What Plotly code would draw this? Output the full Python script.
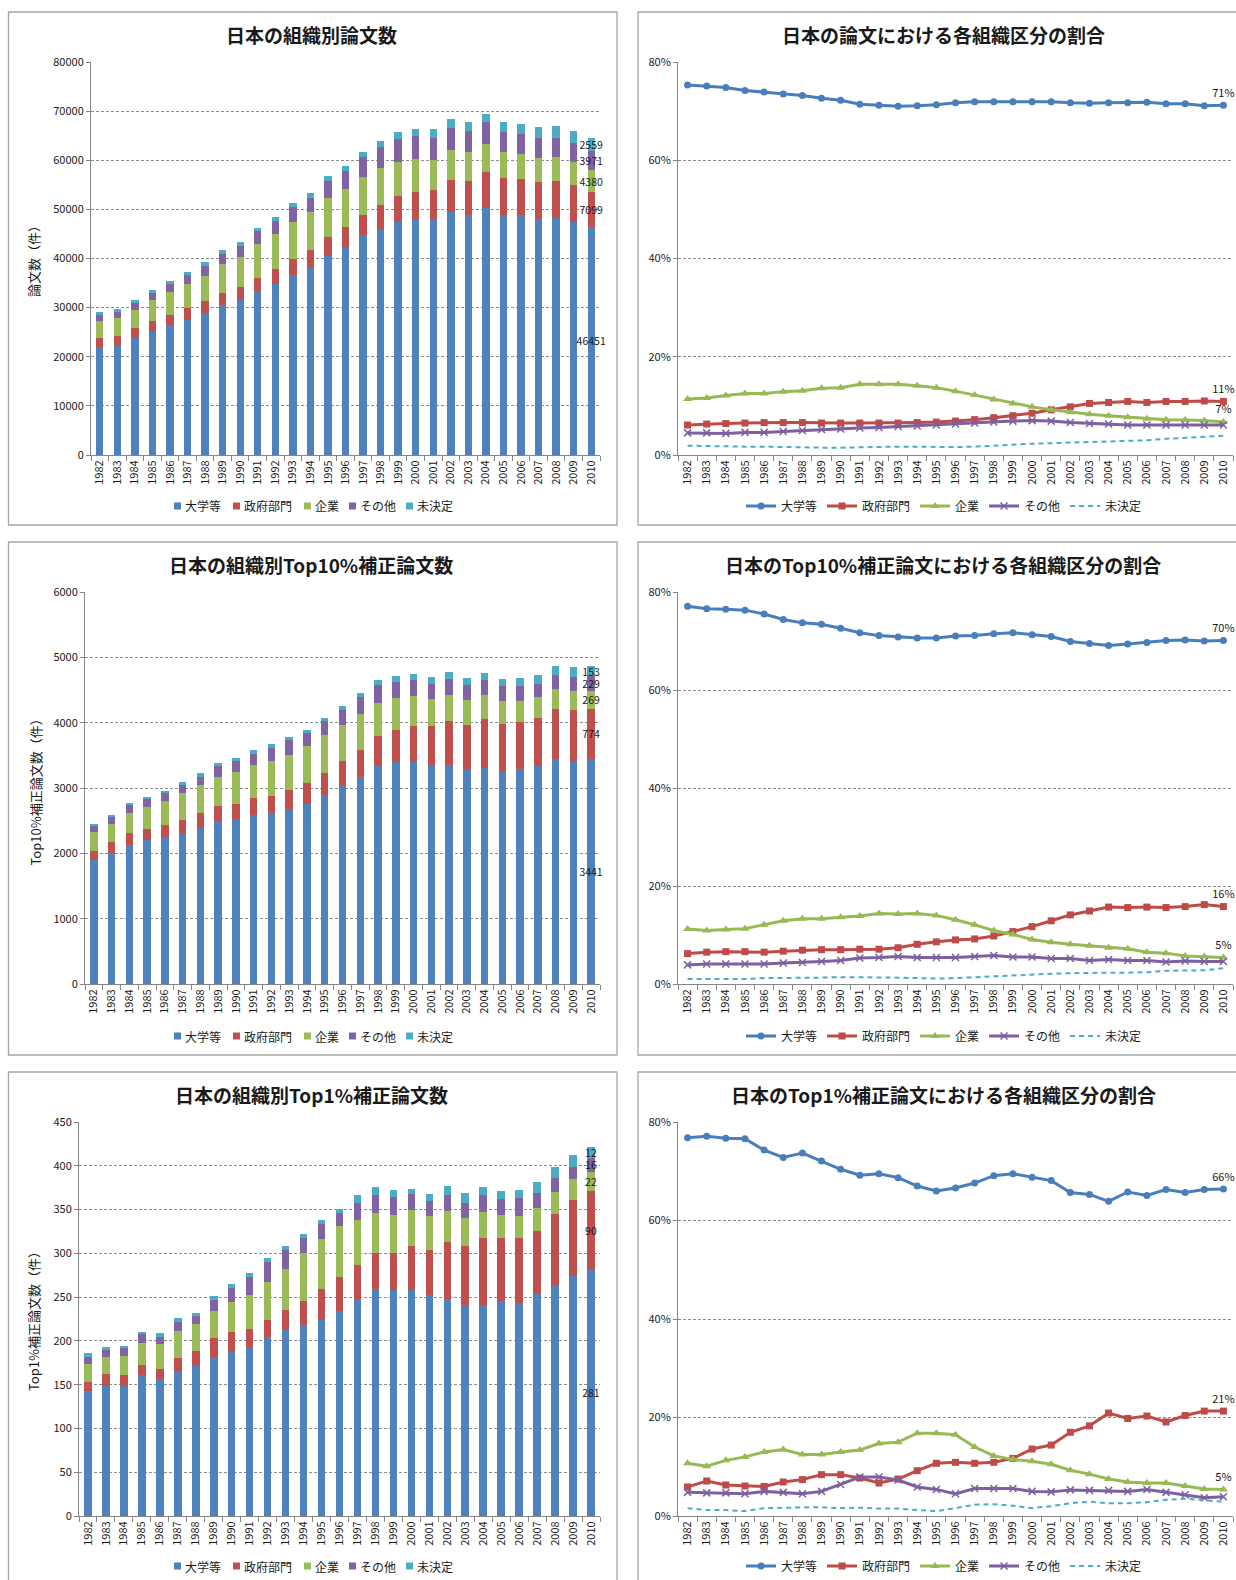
import plotly.graph_objects as go

W, H = 1236, 1580
FONT = "Noto Sans CJK JP"

years = [str(y) for y in range(1982, 2011)]
series_names = ["大学等", "政府部門", "企業", "その他", "未決定"]

titles = [
    "日本の組織別論文数",
    "日本の論文における各組織区分の割合",
    "日本の組織別Top10%補正論文数",
    "日本のTop10%補正論文における各組織区分の割合",
    "日本の組織別Top1%補正論文数",
    "日本のTop1%補正論文における各組織区分の割合",
]
ytitles = ["論文数（件）", "Top10%補正論文数（件）", "Top1%補正論文数（件）"]

# ---- Panel 1: number of papers ----
univ1 = [22000, 22400, 23750, 25100, 26400, 27500, 28700, 30500, 31500, 33400, 34800, 36600, 38200, 40700, 42300,
         44700, 46100, 47500, 48000, 47800, 49400, 48800, 50200, 48900, 48900, 48100, 48300, 47500, 46451]
gov1 = [1900, 1900, 2050, 2100, 2200, 2400, 2600, 2500, 2700, 2700, 3100, 3300, 3500, 3700, 4100,
        4200, 4800, 5300, 5600, 6100, 6600, 7000, 7400, 7500, 7200, 7500, 7500, 7400, 7099]
corp1 = [3300, 3600, 3800, 4300, 4500, 5000, 5200, 5900, 6200, 6900, 7100, 7500, 7700, 7900, 7800,
         7700, 7500, 6900, 6600, 6200, 6100, 5800, 5700, 5200, 5100, 4900, 4800, 4700, 4380]
other1 = [1400, 1200, 1400, 1500, 1700, 1800, 2000, 2100, 2100, 2600, 2600, 3000, 2900, 3500, 3600,
          4100, 4200, 4700, 4700, 4500, 4500, 4400, 4400, 4200, 4200, 4000, 4000, 4000, 3971]
undet1 = [500, 600, 500, 600, 700, 600, 700, 700, 900, 700, 900, 800, 1100, 900, 1100,
          1000, 1300, 1300, 1500, 1700, 1800, 1700, 1800, 1900, 2000, 2200, 2300, 2400, 2559]

# ---- Panel 2: shares (%) ----
univ2 = [75.3, 75.1, 74.8, 74.2, 73.9, 73.5, 73.2, 72.6, 72.2, 71.4, 71.2, 71.0, 71.1, 71.3, 71.7,
         71.9, 71.9, 71.9, 71.9, 71.9, 71.7, 71.6, 71.7, 71.7, 71.8, 71.5, 71.5, 71.1, 71.2]
gov2 = [6.1, 6.3, 6.4, 6.5, 6.6, 6.6, 6.6, 6.5, 6.5, 6.5, 6.5, 6.5, 6.6, 6.7, 6.9,
        7.2, 7.6, 8.0, 8.5, 9.2, 9.8, 10.5, 10.7, 10.9, 10.7, 10.9, 10.9, 11.0, 10.9]
corp2 = [11.4, 11.6, 12.1, 12.5, 12.5, 12.9, 13.1, 13.6, 13.7, 14.4, 14.4, 14.4, 14.1, 13.7, 13.0,
         12.2, 11.3, 10.5, 9.8, 9.2, 8.7, 8.3, 8.0, 7.7, 7.4, 7.2, 7.1, 7.0, 6.7]
other2 = [4.5, 4.5, 4.4, 4.6, 4.6, 4.8, 5.0, 5.2, 5.3, 5.5, 5.6, 5.8, 5.9, 6.1, 6.3,
          6.5, 6.7, 6.9, 7.0, 6.9, 6.6, 6.4, 6.3, 6.1, 6.1, 6.1, 6.1, 6.1, 6.1]
undet2 = [1.9, 1.8, 1.8, 1.7, 1.7, 1.6, 1.5, 1.5, 1.5, 1.6, 1.6, 1.7, 1.7, 1.6, 1.6,
          1.7, 1.9, 2.2, 2.3, 2.4, 2.5, 2.6, 2.7, 2.8, 3.0, 3.3, 3.5, 3.7, 3.9]

# ---- Panel 3: Top10% papers ----
univ3 = [1900, 1998, 2127, 2205, 2246, 2308, 2385, 2489, 2530, 2592, 2618, 2685, 2757, 2886, 3031,
         3175, 3330, 3392, 3403, 3351, 3351, 3274, 3305, 3258, 3289, 3336, 3444, 3413, 3441]
gov3 = [140, 171, 181, 175, 191, 201, 228, 232, 232, 248, 253, 279, 315, 351, 382,
        408, 460, 496, 552, 599, 676, 692, 754, 728, 728, 738, 769, 785, 774]
corp3 = [294, 284, 315, 331, 362, 408, 428, 449, 481, 506, 547, 542, 568, 574, 558,
         553, 511, 491, 449, 413, 398, 382, 366, 346, 315, 320, 295, 284, 269]
other3 = [88, 98, 114, 124, 118, 129, 135, 160, 165, 181, 191, 222, 207, 216, 227,
          253, 274, 242, 253, 232, 248, 222, 232, 222, 232, 201, 222, 222, 229]
undet3 = [31, 36, 31, 31, 42, 47, 51, 47, 52, 56, 62, 52, 46, 47, 57,
          67, 72, 93, 93, 104, 103, 108, 109, 114, 114, 135, 144, 144, 153]

# ---- Panel 4: Top10% shares (%) ----
univ4 = [77.1, 76.6, 76.5, 76.3, 75.5, 74.4, 73.7, 73.4, 72.6, 71.7, 71.1, 70.8, 70.6, 70.6, 71.0,
         71.1, 71.5, 71.7, 71.3, 70.9, 69.9, 69.5, 69.1, 69.4, 69.7, 70.1, 70.2, 70.0, 70.1]
gov4 = [6.2, 6.5, 6.6, 6.6, 6.5, 6.7, 6.9, 7.0, 7.0, 7.1, 7.1, 7.4, 8.1, 8.6, 9.0,
        9.2, 9.8, 10.7, 11.7, 12.9, 14.1, 14.9, 15.7, 15.6, 15.7, 15.6, 15.8, 16.2, 15.8]
corp4 = [11.2, 10.9, 11.1, 11.3, 12.1, 12.9, 13.3, 13.3, 13.6, 13.9, 14.4, 14.3, 14.4, 14.0, 13.1,
         12.1, 10.9, 10.1, 9.1, 8.5, 8.1, 7.8, 7.4, 7.2, 6.5, 6.3, 5.7, 5.6, 5.4]
other4 = [3.9, 4.1, 4.1, 4.1, 4.1, 4.3, 4.4, 4.6, 4.8, 5.3, 5.4, 5.6, 5.4, 5.4, 5.4,
          5.6, 5.8, 5.5, 5.5, 5.2, 5.2, 4.8, 5.0, 4.8, 4.8, 4.5, 4.7, 4.6, 4.6]
undet4 = [1.0, 1.0, 1.0, 1.0, 1.2, 1.2, 1.2, 1.3, 1.4, 1.4, 1.4, 1.3, 1.2, 1.1, 1.2,
          1.4, 1.5, 1.7, 1.9, 2.1, 2.2, 2.3, 2.3, 2.3, 2.4, 2.7, 2.7, 2.8, 3.2]

# ---- Panel 5: Top1% papers ----
univ5 = [143, 148, 149, 161, 157, 166, 172, 182, 188, 193, 204, 212, 217, 224, 234,
         248, 259, 258, 258, 252, 248, 241, 241, 245, 243, 254, 264, 274, 281]
gov5 = [10, 14, 12, 12, 11, 15, 17, 21, 22, 21, 20, 23, 29, 35, 39,
        39, 41, 42, 50, 52, 65, 67, 77, 73, 75, 72, 81, 87, 90]
corp5 = [21, 20, 22, 25, 28, 30, 30, 31, 34, 38, 43, 47, 54, 57, 58,
         51, 46, 44, 42, 39, 35, 32, 29, 26, 25, 26, 25, 24, 22]
other5 = [8, 8, 9, 10, 9, 11, 9, 13, 16, 21, 23, 22, 18, 18, 15,
          20, 21, 20, 18, 17, 19, 18, 20, 18, 20, 17, 16, 14, 16]
undet5 = [4, 3, 2, 2, 4, 4, 4, 4, 5, 5, 5, 4, 4, 4, 5,
          9, 9, 8, 6, 8, 10, 11, 9, 9, 9, 13, 13, 13, 12]

# ---- Panel 6: Top1% shares (%) ----
univ6 = [76.8, 77.1, 76.7, 76.6, 74.3, 72.8, 73.7, 72.1, 70.4, 69.2, 69.5, 68.7, 67.0, 66.0, 66.6,
         67.6, 69.1, 69.5, 68.8, 68.1, 65.7, 65.3, 63.9, 65.8, 65.1, 66.3, 65.7, 66.3, 66.4]
gov6 = [5.9, 7.1, 6.3, 6.1, 6.0, 6.9, 7.4, 8.4, 8.4, 7.7, 6.7, 7.5, 9.2, 10.7, 10.9,
        10.7, 10.9, 11.7, 13.6, 14.4, 17.0, 18.3, 20.9, 19.8, 20.3, 19.1, 20.4, 21.3, 21.3]
corp6 = [10.7, 10.1, 11.3, 12.0, 13.0, 13.5, 12.5, 12.5, 13.0, 13.4, 14.7, 15.0, 16.8, 16.8, 16.5,
         14.0, 12.2, 11.5, 11.1, 10.5, 9.3, 8.5, 7.5, 6.9, 6.7, 6.7, 6.1, 5.5, 5.4]
other6 = [4.8, 4.7, 4.7, 4.5, 5.0, 4.8, 4.5, 5.0, 6.4, 7.9, 7.9, 7.3, 5.9, 5.4, 4.5,
          5.6, 5.6, 5.6, 5.0, 4.9, 5.3, 5.2, 5.2, 5.0, 5.4, 4.8, 4.3, 3.7, 3.9]
undet6 = [1.6, 1.2, 1.2, 1.0, 1.6, 1.7, 1.8, 1.8, 1.6, 1.7, 1.5, 1.5, 1.2, 1.0, 1.6,
          2.3, 2.4, 2.1, 1.6, 2.0, 2.6, 2.9, 2.6, 2.6, 2.8, 3.3, 3.5, 3.2, 2.9]

bar_panels = [
    [univ1, gov1, corp1, other1, undet1],
    [univ3, gov3, corp3, other3, undet3],
    [univ5, gov5, corp5, other5, undet5],
]
line_panels = [
    [univ2, gov2, corp2, other2, undet2],
    [univ4, gov4, corp4, other4, undet4],
    [univ6, gov6, corp6, other6, undet6],
]
bar_ranges = [(80000, 10000), (6000, 1000), (450, 50)]

# ---- styling ----
bar_colors = ["#4F81BD", "#C0504D", "#9BBB59", "#8064A2", "#4BACC6"]
line_colors = ["#4A7EBB", "#BE4B48", "#98B954", "#7D60A0", "#4BACC6"]
markers = ["circle", "square", "triangle-up", "x-thin", None]
TXT = "#1a1a1a"
AX = "#868686"
GRID = "#8c8c8c"


def px_x(a, b):
    return [a / W, b / W]


def px_y(top, bottom):
    return [1 - bottom / H, 1 - top / H]


row_tops = [62, 592, 1122]
row_bottoms = [455, 984, 1516]
left_x0 = [91, 85, 79]
left_x1 = 600
right_x = (678, 1233)
title_y = [34.5, 564.5, 1094.5]
legend_y = [506, 1036, 1566]
ytitle_pos = [(33.5, 258.5), (34.5, 789), (33.5, 1318.5)]

fig = go.Figure()
layout = dict(
    width=W, height=H, autosize=False,
    margin=dict(l=0, r=0, t=0, b=0, pad=0, autoexpand=False),
    paper_bgcolor="white", plot_bgcolor="white",
    font=dict(family=FONT, size=11, color=TXT),
    barmode="stack", bargap=0.58,
    showlegend=True,
)
annotations = []
shapes = []


def xaxis_style(anchor, domain):
    return dict(type="category", range=[-0.5, 28.5], domain=domain, anchor=anchor, automargin=False,
                showline=True, linecolor=AX, linewidth=1, ticks="outside", tickson="boundaries",
                ticklen=5, tickcolor=AX, tickangle=-90, tickmode="linear", dtick=1,
                tickfont=dict(size=11, color=TXT), showgrid=False, fixedrange=True)


def yaxis_style(anchor, domain, rmax, dtick, suffix=""):
    return dict(range=[0, rmax], dtick=dtick, domain=domain, anchor=anchor, tickformat="d",
                automargin=False,
                showline=True, linecolor=AX, linewidth=1, ticks="outside", ticklen=4, tickcolor=AX,
                showgrid=True, gridcolor=GRID, griddash="3px,2px", gridwidth=1, zeroline=False,
                ticksuffix=suffix, tickfont=dict(size=11, color=TXT), fixedrange=True)


for r in range(3):
    # --- left: stacked bars ---
    ai = 2 * r + 1
    bi = 2 * r + 2
    xa = "x" if ai == 1 else f"x{ai}"
    ya = "y" if ai == 1 else f"y{ai}"
    layout["xaxis" if ai == 1 else f"xaxis{ai}"] = xaxis_style(ya, px_x(left_x0[r], left_x1))
    rmax, dt = bar_ranges[r]
    layout["yaxis" if ai == 1 else f"yaxis{ai}"] = yaxis_style(xa, px_y(row_tops[r], row_bottoms[r]), rmax, dt)
    for s, vals in enumerate(bar_panels[r]):
        txt = [""] * (len(vals) - 1) + [str(vals[-1])]
        fig.add_trace(go.Bar(
            x=years, y=vals, name=series_names[s], xaxis=xa, yaxis=ya,
            marker=dict(color=bar_colors[s], line=dict(width=0)),
            text=txt, textposition="inside", insidetextanchor="middle", textangle=0,
            constraintext="none", textfont=dict(size=10.5, color=TXT, family=FONT),
            cliponaxis=False, showlegend=False,
        ))
    # --- right: share lines ---
    xb = f"x{bi}"
    yb = f"y{bi}"
    layout[f"xaxis{bi}"] = xaxis_style(yb, px_x(*right_x))
    layout[f"yaxis{bi}"] = yaxis_style(xb, px_y(row_tops[r], row_bottoms[r]), 80, 20, "%")
    leg = f"legend{bi}"
    for s, vals in enumerate(line_panels[r]):
        if markers[s] is None:
            fig.add_trace(go.Scatter(
                x=years, y=vals, name=series_names[s], xaxis=xb, yaxis=yb, mode="lines",
                line=dict(color=line_colors[s], width=2, dash="5px,4px"), legend=leg,
            ))
        else:
            txt = [""] * (len(vals) - 1) + [f"{round(vals[-1])}%"] if s < 3 else None
            mk = dict(symbol=markers[s], size=7 if s != 2 else 8, color=line_colors[s])
            if markers[s] == "x-thin":
                mk["line"] = dict(width=1.5, color=line_colors[s])
            fig.add_trace(go.Scatter(
                x=years, y=vals, name=series_names[s], xaxis=xb, yaxis=yb,
                mode="lines+markers+text" if txt else "lines+markers",
                text=txt, textposition="top center",
                textfont=dict(size=11, color=TXT, family=FONT),
                line=dict(color=line_colors[s], width=3), marker=mk, legend=leg, cliponaxis=False,
            ))
    layout[leg] = dict(orientation="h", x=944 / W, xanchor="center", y=1 - legend_y[r] / H,
                       yanchor="middle", font=dict(size=12, color=TXT, family=FONT),
                       bgcolor="rgba(0,0,0,0)", itemwidth=30)

    # titles
    annotations.append(dict(text=f"<b>{titles[2 * r]}</b>", x=311 / W, y=1 - title_y[r] / H,
                            xref="paper", yref="paper", showarrow=False, xanchor="center",
                            yanchor="middle", font=dict(size=19, color=TXT, family=FONT)))
    annotations.append(dict(text=f"<b>{titles[2 * r + 1]}</b>", x=943 / W, y=1 - title_y[r] / H,
                            xref="paper", yref="paper", showarrow=False, xanchor="center",
                            yanchor="middle", font=dict(size=19, color=TXT, family=FONT)))
    # y-axis title
    annotations.append(dict(text=ytitles[r], x=ytitle_pos[r][0] / W, y=1 - ytitle_pos[r][1] / H,
                            xref="paper", yref="paper", showarrow=False, textangle=-90,
                            xanchor="center", yanchor="middle", font=dict(size=13, color=TXT, family=FONT)))
    # manual legend for bar panel
    sq_x = [174, 233, 304, 349, 406]
    for s in range(5):
        cy = legend_y[r]
        shapes.append(dict(type="rect", xref="paper", yref="paper",
                           x0=sq_x[s] / W, x1=(sq_x[s] + 7) / W,
                           y0=1 - (cy + 3.5) / H, y1=1 - (cy - 3.5) / H,
                           fillcolor=bar_colors[s], line=dict(width=0)))
        annotations.append(dict(text=series_names[s], x=(sq_x[s] + 9) / W, y=1 - cy / H,
                                xref="paper", yref="paper", showarrow=False, xanchor="left",
                                yanchor="middle", font=dict(size=12, color=TXT, family=FONT)))

# panel borders
panel_rows = [(12, 525), (542, 1055), (1072, 1590)]
for (t, b) in panel_rows:
    shapes.append(dict(type="rect", xref="paper", yref="paper", x0=8.5 / W, x1=617 / W,
                       y0=1 - b / H, y1=1 - t / H, line=dict(color="#A6A6A6", width=1.3),
                       fillcolor="rgba(0,0,0,0)", layer="below"))
    shapes.append(dict(type="rect", xref="paper", yref="paper", x0=638 / W, x1=1245 / W,
                       y0=1 - b / H, y1=1 - t / H, line=dict(color="#A6A6A6", width=1.3),
                       fillcolor="rgba(0,0,0,0)", layer="below"))

layout["annotations"] = annotations
layout["shapes"] = shapes
fig.update_layout(**layout)

page_fix = (
    "document.documentElement.style.margin='0';"
    "document.body.style.margin='0';"
    "document.body.style.padding='0';"
)
fig.write_html("out.html", config={"displayModeBar": False}, post_script=page_fix)
